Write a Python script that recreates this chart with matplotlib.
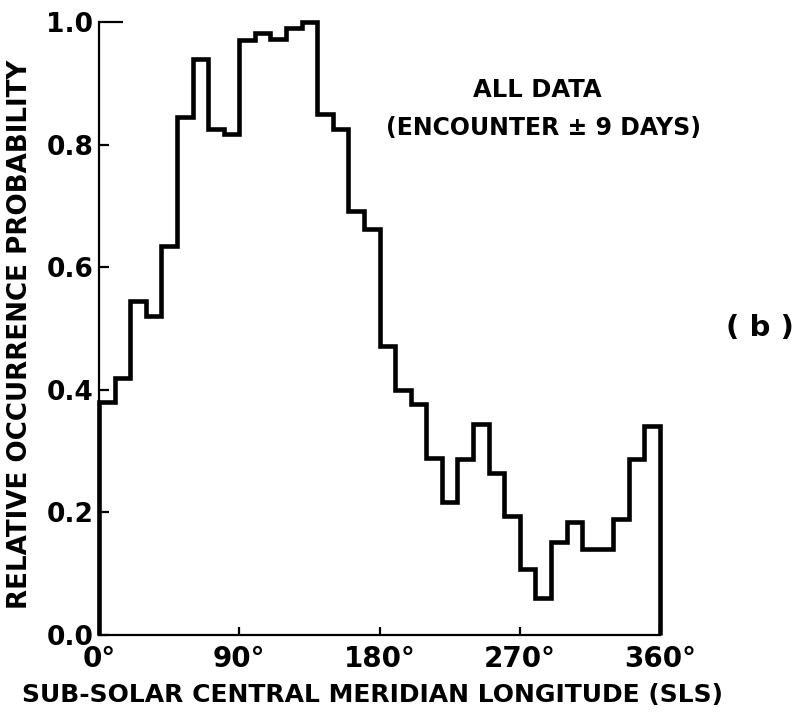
import matplotlib
matplotlib.use("Agg")
import matplotlib.pyplot as plt
import numpy as np

# ---- data ----
bin_edges = list(range(0, 361, 10))  # sub-solar central meridian longitude (deg)
probability = [0.38, 0.42, 0.545, 0.52, 0.635, 0.845, 0.94, 0.825, 0.818,
               0.97, 0.982, 0.972, 0.99, 1.0, 0.85, 0.825, 0.692, 0.663,
               0.472, 0.40, 0.377, 0.288, 0.217, 0.287, 0.344, 0.265,
               0.194, 0.108, 0.061, 0.151, 0.185, 0.140, 0.140, 0.190,
               0.287, 0.341]
x_ticks = [0, 90, 180, 270, 360]
x_ticklabels = ["0°", "90°", "180°", "270°", "360°"]
y_ticks = [0.0, 0.2, 0.4, 0.6, 0.8, 1.0]
y_ticklabels = ["0.0", "0.2", "0.4", "0.6", "0.8", "1.0"]

plt.rcParams['font.family'] = ['DejaVu Sans']
plt.rcParams['font.weight'] = 'bold'

fig = plt.figure(figsize=(7.98, 7.24), dpi=100)
ax = fig.add_axes([99/798, 89/724, 561/798, 613/724])

ax.stairs(probability, bin_edges, baseline=0, color='black', linewidth=3.3,
          clip_on=False)

ax.set_xlim(0, 360)
ax.set_ylim(0, 1.0)
for s in ['top', 'right']:
    ax.spines[s].set_visible(False)
for s in ['left', 'bottom']:
    ax.spines[s].set_linewidth(1.6)

ax.set_xticks(x_ticks)
ax.set_xticklabels(x_ticklabels, fontweight='bold')
ax.set_yticks(y_ticks)
ax.set_yticklabels(y_ticklabels, fontweight='bold')
ax.tick_params(axis='x', direction='in', length=6, width=1.6, labelsize=20, pad=7)
ax.tick_params(axis='y', direction='in', length=7, width=1.6, labelsize=19, pad=4)
ax.yaxis.get_major_ticks()[-1].tick1line.set_markersize(17)

fig.text(20/798, 1 - 334/724, "RELATIVE OCCURRENCE PROBABILITY", rotation=90,
         ha='center', va='center', fontsize=18.8, fontweight='bold')
fig.text(372/798, 1 - 695/724, "SUB-SOLAR CENTRAL MERIDIAN LONGITUDE (SLS)",
         ha='center', va='center', fontsize=18, fontweight='bold')

fig.text(537/798, 1 - 90/724, "ALL DATA", ha='center', va='center',
         fontsize=17.5, fontweight='bold')
fig.text(543/798, 1 - 128/724, "(ENCOUNTER ± 9 DAYS)", ha='center', va='center',
         fontsize=17, fontweight='bold')
fig.text(760/798, 1 - 328/724, "( b )", ha='center', va='center', fontsize=21,
         fontweight='bold')

fig.savefig("out.png", dpi=100, facecolor='white')
